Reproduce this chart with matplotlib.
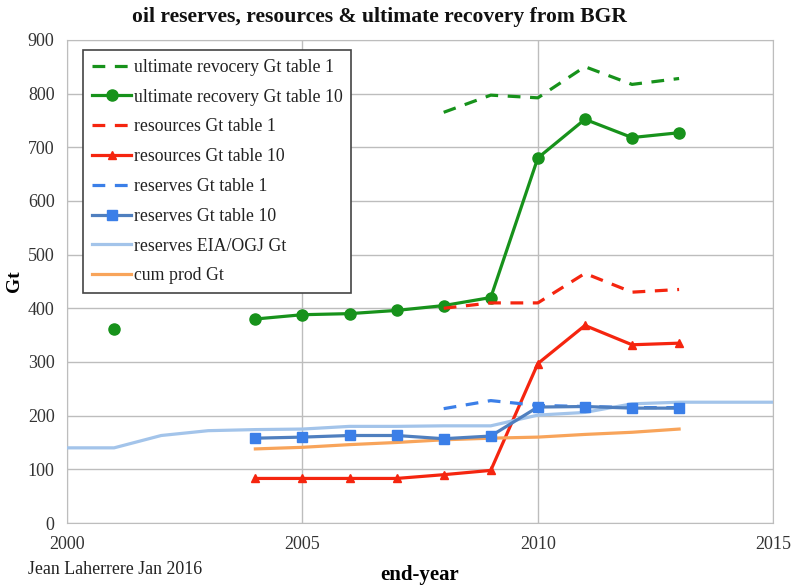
import matplotlib.pyplot as plt

plt.rcParams['font.family'] = ['Liberation Serif', 'DejaVu Serif']

# BGR tables, Gt
years_ur1 = [2008, 2009, 2010, 2011, 2012, 2013]
ur_table1 = [765, 797, 792, 850, 817, 828]

years_ur10 = [2004, 2005, 2006, 2007, 2008, 2009, 2010, 2011, 2012, 2013]
ur_table10 = [380, 388, 390, 396, 405, 420, 680, 752, 718, 727]
ur_2001 = 362

years_res1 = [2008, 2009, 2010, 2011, 2012, 2013]
res_table1 = [400, 410, 410, 465, 430, 435]

years_res10 = [2004, 2005, 2006, 2007, 2008, 2009, 2010, 2011, 2012, 2013]
res_table10 = [83, 83, 83, 83, 90, 98, 297, 368, 332, 335]

years_rsv1 = [2008, 2009, 2010, 2011, 2012, 2013]
rsv_table1 = [213, 228, 219, 217, 215, 215]

years_rsv10 = [2004, 2005, 2006, 2007, 2008, 2009, 2010, 2011, 2012, 2013]
rsv_table10 = [158, 160, 163, 163, 157, 162, 216, 217, 214, 214]

years_eia = [2000, 2001, 2002, 2003, 2004, 2005, 2006, 2007, 2008, 2009,
             2010, 2011, 2012, 2013, 2014, 2015]
rsv_eia = [140, 140, 163, 172, 174, 175, 180, 180, 181, 181,
           201, 206, 222, 225, 225, 225]

years_cum = [2004, 2005, 2006, 2007, 2008, 2009, 2010, 2011, 2012, 2013]
cum_prod = [138, 141, 146, 150, 155, 158, 160, 165, 169, 175]

green = '#17921b'
red = '#f5250f'
blue = '#3b7fe8'

fig = plt.figure(figsize=(7.98, 5.86), dpi=100)
ax = fig.add_axes([0.084, 0.1075, 0.885, 0.8245])

ax.plot(years_ur1, ur_table1, color=green, lw=2.3, dashes=(4, 3),
        label='ultimate revocery Gt table 1')
ax.plot(years_ur10, ur_table10, color=green, lw=2.3, marker='o', ms=8,
        label='ultimate recovery Gt table 10')
ax.plot([2001], [ur_2001], color=green, marker='o', ms=8, ls='none')
ax.plot(years_res1, res_table1, color=red, lw=2.3, dashes=(4, 3),
        label='resources Gt table 1')
ax.plot(years_res10, res_table10, color=red, lw=2.3, marker='^', ms=6,
        label='resources Gt table 10')
ax.plot(years_rsv1, rsv_table1, color=blue, lw=2.3, dashes=(4, 3),
        label='reserves Gt table 1')
ax.plot(years_eia, rsv_eia, color='#a3c4ea', lw=2.3,
        label='reserves EIA/OGJ Gt', zorder=3)
ax.plot(years_rsv10, rsv_table10, color='#4f7fbf', lw=2.3, marker='s',
        ms=7, mfc=blue, mec=blue, label='reserves Gt table 10', zorder=4)
ax.plot(years_cum, cum_prod, color='#f8a45a', lw=2.3, label='cum prod Gt',
        zorder=3)

ax.set_xlim(2000, 2015)
ax.set_ylim(0, 900)
ax.set_xticks([2000, 2005, 2010, 2015])
ax.set_yticks(range(0, 901, 100))
ax.grid(True, color='#bdbdbd', lw=1)
ax.set_axisbelow(True)
for s in ax.spines.values():
    s.set_color('#bdbdbd')
ax.tick_params(length=0, labelsize=13, colors='#333333', pad=9)

handles, labels = ax.get_legend_handles_labels()
order = [0, 1, 2, 3, 4, 6, 5, 7]
leg = ax.legend([handles[i] for i in order], [labels[i] for i in order],
                loc='upper left', bbox_to_anchor=(0.0227, 0.979),
                borderaxespad=0, fontsize=12.8, handlelength=2.2,
                handletextpad=0.15, labelspacing=0.72, borderpad=0.5,
                fancybox=False, framealpha=1)
leg.get_frame().set_edgecolor('#444444')
leg.get_frame().set_linewidth(1.2)
for t in leg.get_texts():
    t.set_color('#222222')

ax.set_ylabel('Gt', fontsize=14, fontweight='bold')
ax.yaxis.set_label_coords(-0.062, 0.5)
fig.text(0.526, 0.011, 'end-year', ha='center', fontsize=15,
         fontweight='bold')
fig.text(0.035, 0.02, 'Jean Laherrere Jan 2016', fontsize=12.9,
         color='#222222')
fig.text(0.476, 0.963, 'oil reserves, resources & ultimate recovery from BGR',
         ha='center', fontsize=15.6, fontweight='bold', color='#111111')

fig.savefig('out.png', dpi=100)
